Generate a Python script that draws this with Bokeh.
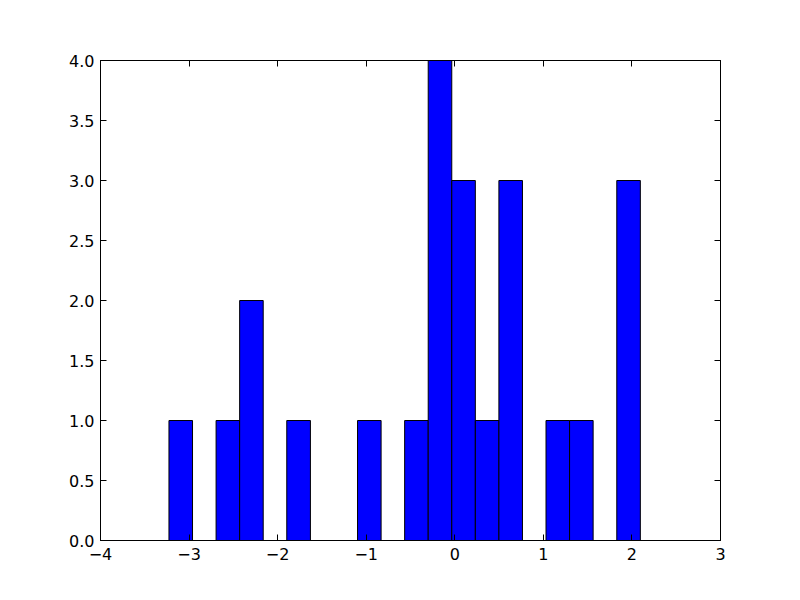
from bokeh.plotting import figure
from bokeh.models import ColumnDataSource, Range1d, LinearAxis, FixedTicker, NumeralTickFormatter
from bokeh.embed import file_html
from bokeh.resources import INLINE

# Histogram data (20 bins)
bin_edges = [-3.227, -2.961, -2.695, -2.429, -2.163, -1.897, -1.630, -1.364, -1.098, -0.832,
             -0.566, -0.300, -0.034, 0.232, 0.498, 0.764, 1.030, 1.296, 1.562, 1.829, 2.095]
counts = [1, 0, 1, 2, 0, 1, 0, 0, 1, 0, 1, 4, 3, 1, 3, 0, 1, 1, 0, 3]

x_ticks = [-4, -3, -2, -1, 0, 1, 2, 3]
x_tick_labels = ["\u22124", "\u22123", "\u22122", "\u22121", "0", "1", "2", "3"]
y_ticks = [0.0, 0.5, 1.0, 1.5, 2.0, 2.5, 3.0, 3.5, 4.0]

src = ColumnDataSource(dict(
    left=bin_edges[:-1],
    right=bin_edges[1:],
    top=counts,
    bottom=[0] * len(counts),
))

p = figure(width=800, height=600, output_backend="svg", toolbar_location=None,
           x_range=Range1d(-4, 3), y_range=Range1d(0, 4),
           min_border_left=100, min_border_right=80, min_border_top=60, min_border_bottom=60,
           x_axis_type=None, y_axis_type=None)
p.grid.visible = False
p.outline_line_color = "black"
p.outline_line_alpha = 1.0
p.outline_line_width = 1
p.background_fill_color = "white"
p.border_fill_color = "white"

p.quad(left="left", right="right", top="top", bottom="bottom", source=src,
       fill_color="#0000ff", line_color="black", line_width=1)

font = "DejaVu Sans"

def style(ax, show_labels):
    ax.major_tick_in = 6
    ax.major_tick_out = 0
    ax.minor_tick_line_color = None
    ax.axis_line_color = "black"
    ax.major_tick_line_color = "black"
    ax.major_label_text_font = font
    ax.major_label_text_color = "black"
    if show_labels:
        ax.major_label_text_font_size = "16px"
    else:
        ax.major_label_text_font_size = "0px"
        ax.major_label_text_alpha = 0

xb = LinearAxis(ticker=FixedTicker(ticks=x_ticks))
xb.major_label_overrides = {t: l for t, l in zip(x_ticks, x_tick_labels)}
style(xb, True)
xb.major_label_standoff = 7
p.add_layout(xb, "below")

yl = LinearAxis(ticker=FixedTicker(ticks=y_ticks), formatter=NumeralTickFormatter(format="0.0"))
style(yl, True)
yl.major_label_standoff = 6
p.add_layout(yl, "left")

xt = LinearAxis(ticker=FixedTicker(ticks=x_ticks))
style(xt, False)
p.add_layout(xt, "above")

yr = LinearAxis(ticker=FixedTicker(ticks=y_ticks))
style(yr, False)
p.add_layout(yr, "right")

open("out.html", "w").write(file_html(p, INLINE))
